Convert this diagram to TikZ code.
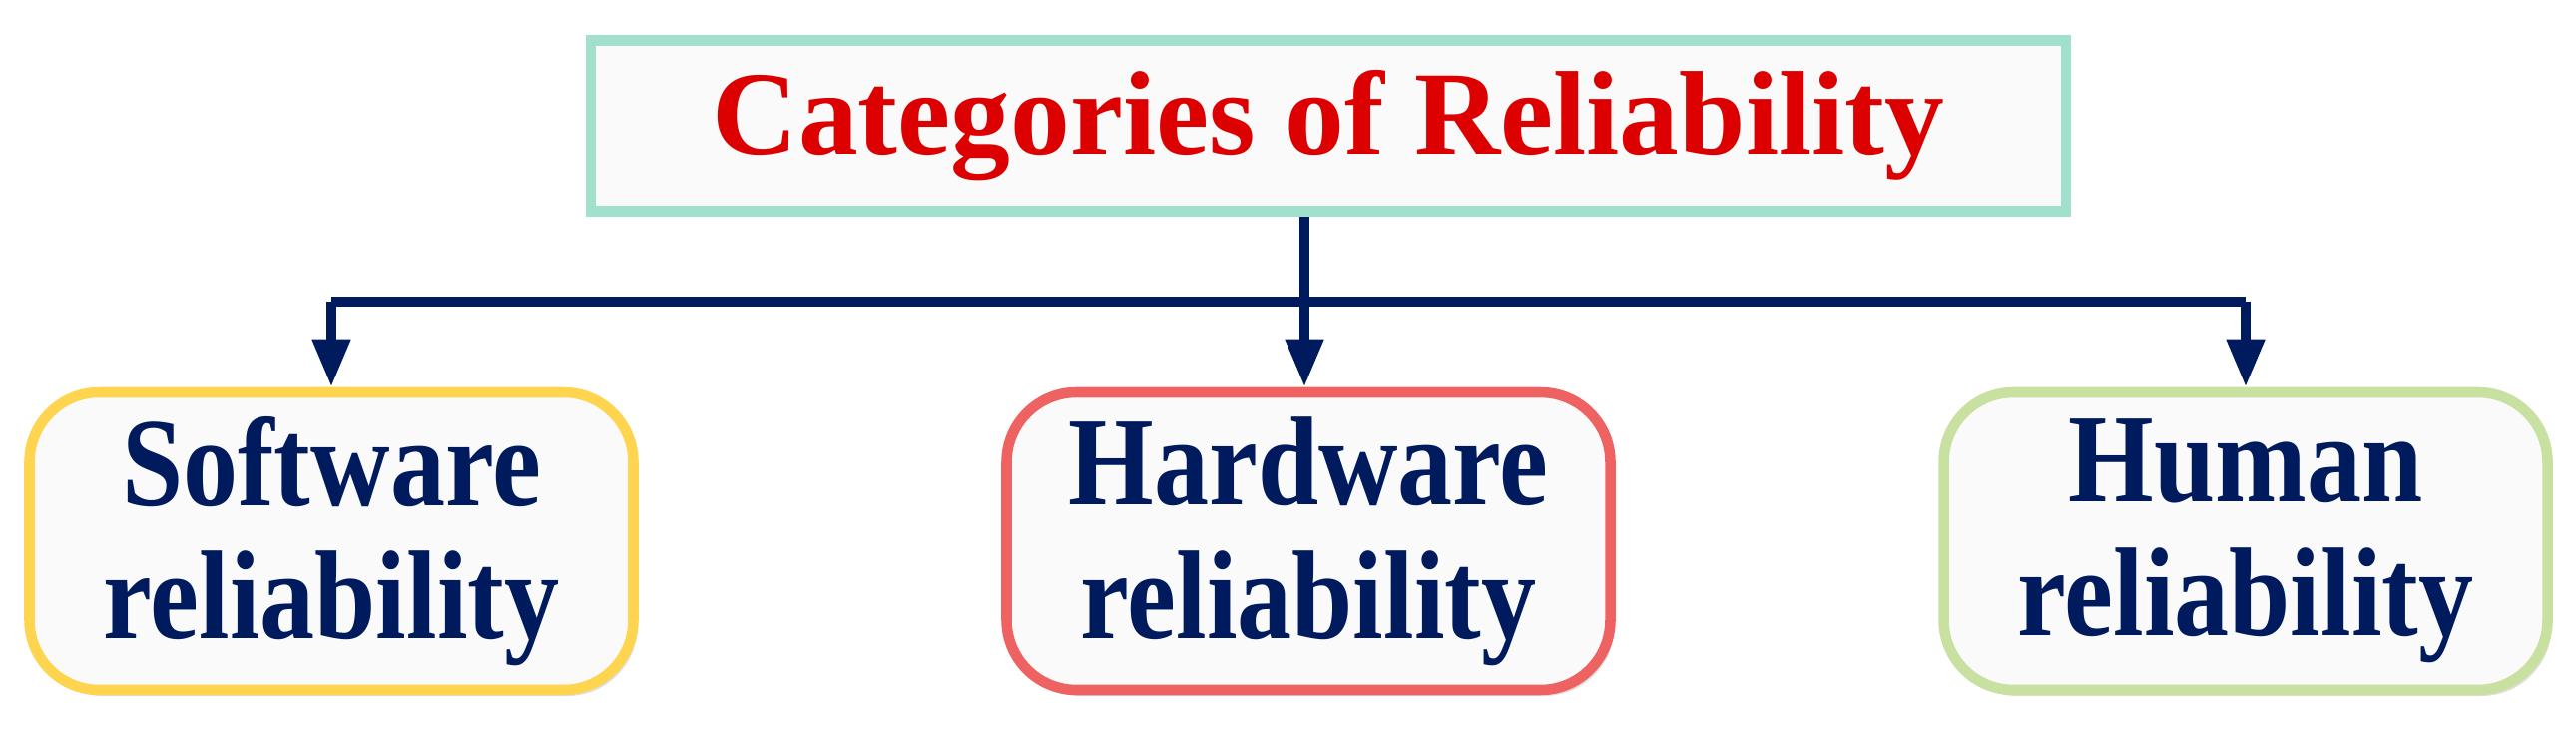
\documentclass[tikz,border=0pt]{standalone}
\usepackage{fontspec}
\setmainfont{Liberation Serif}
\usetikzlibrary{arrows.meta,shadows}
\definecolor{navy}{HTML}{001A5E}
\definecolor{titlered}{HTML}{DD0000}
\definecolor{mint}{HTML}{A0E0CC}
\definecolor{sun}{HTML}{FFD54F}
\definecolor{coral}{HTML}{EE6262}
\definecolor{sage}{HTML}{C8E0A0}
\newcommand{\narrow}[1]{\scalebox{0.87}[1]{#1}}
\tikzset{
  cat/.style={draw, line width=3pt, fill=black!2, rounded corners=0.7cm,
    minimum width=6.05cm, minimum height=2.98cm, align=center, text=navy,
    font=\fontsize{36}{38}\selectfont\bfseries,
    drop shadow={shadow xshift=0.04cm, shadow yshift=-0.06cm, opacity=0.25}},
  link/.style={navy, line width=3pt},
  tip/.style={link, -{Triangle[length=4.8mm,width=3.6mm]}}
}
\begin{document}
\begin{tikzpicture}
  \useasboundingbox (0,0) rectangle (25.81,7.53);
  \node (title) [draw=mint, line width=3pt, fill=black!2, minimum width=14.78cm,
    minimum height=1.71cm, text=titlered, font=\fontsize{34}{38}\selectfont\bfseries]
    at (13.31,6.27) {Categories of Reliability};
  \node (soft) [cat, draw=sun] at (3.32,2.11) {\narrow{Software}\\\narrow{reliability}};
  \node (hard) [cat, draw=coral] at (13.11,2.11) {\narrow{Hardware}\\\narrow{reliability}};
  \node (human) [cat, draw=sage] at (22.50,2.11) {\narrow{Human}\\\narrow{reliability}};
  \coordinate (split) at (13.07,4.51);
  \coordinate (lend) at (3.32,4.51);
  \coordinate (rend) at (22.50,4.51);
  \draw [link] (title.south -| split) -- (split);
  \draw [link] (lend) -- (rend);
  \draw [tip] (lend) -- (soft.north);
  \draw [tip] (split) -- (hard.north -| split);
  \draw [tip] (rend) -- (human.north);
\end{tikzpicture}
\end{document}
